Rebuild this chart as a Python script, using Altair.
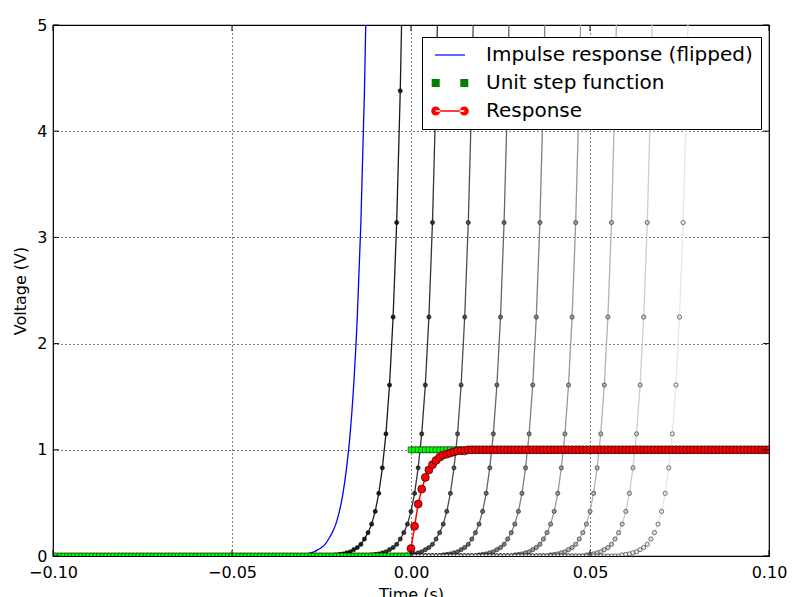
import altair as alt
import pandas as pd

# ---------------- data ----------------
# sample instants (milliseconds), 1 ms apart, over the window -0.1 s .. 0.1 s
TIME_MS = list(range(-100, 101))

# flipped impulse response: value k samples before the shift instant (k = 12 .. 31); further back ~0
IMPULSE_K = list(range(12, 32))
IMPULSE_V = [6.1, 4.38, 3.14, 2.25, 1.61, 1.15, 0.83, 0.59, 0.42, 0.30,
             0.22, 0.16, 0.11, 0.08, 0.06, 0.04, 0.03, 0.02, 0.015, 0.01]

# shifted copies of the flipped impulse response (shift in ms) and their grey levels
SHIFTS_MS = [10, 20, 30, 40, 50, 60, 70, 80, 90]
SHIFT_GREYS = ["#1a1a1a", "#333333", "#4d4d4d", "#666666", "#808080",
               "#999999", "#b3b3b3", "#cccccc", "#e6e6e6"]

# unit step samples (-100 .. 100 ms)
STEP_V = [0] * 100 + [1] * 101

# response samples (0 .. 100 ms)
RESPONSE_MS = list(range(0, 101))
RESPONSE_V = [0.07, 0.28, 0.49, 0.63, 0.74, 0.81, 0.86, 0.90, 0.93, 0.95,
              0.96, 0.97, 0.98, 0.99, 0.99, 0.99, 1.0, 1.0, 1.0, 1.0] + [1.0] * 81

X_TICKS = [-0.10, -0.05, 0.0, 0.05, 0.10]
Y_TICKS = [0, 1, 2, 3, 4, 5]

LEGEND_LABELS = ["Impulse response (flipped)", "Unit step function", "Response"]
LEGEND_FILLS = ["#0000ff", "#007f00", "#ff0000"]
# symbol paths (1 unit = 10 px with symbolSize 400)
LEGEND_SHAPES = [
    "M-1.5,-0.06H1.5V0.06H-1.5Z",
    "M-1.83,-0.4H-1.03V0.4H-1.83Z M1.03,-0.4H1.83V0.4H1.03Z",
    "M-1.43,-0.07H1.43V0.07H-1.43Z "
    "M-1.88,0A0.45 0.45 0 1 0 -0.98 0A0.45 0.45 0 1 0 -1.88 0Z "
    "M0.98,0A0.45 0.45 0 1 0 1.88 0A0.45 0.45 0 1 0 0.98 0Z",
]

# ---------------- tables ----------------
def impulse_value(k):
    if k in IMPULSE_K:
        return IMPULSE_V[IMPULSE_K.index(k)]
    return 0.0

grey_rows = []
for shift, grey in zip(SHIFTS_MS, SHIFT_GREYS):
    for ms in TIME_MS:
        k = shift - ms
        if k >= IMPULSE_K[0]:
            grey_rows.append({"t": ms / 1000, "v": impulse_value(k), "curve": shift, "grey": grey})
grey_df = pd.DataFrame(grey_rows)

blue_df = pd.DataFrame([{"t": ms / 1000, "v": impulse_value(-ms)} for ms in TIME_MS if -ms >= IMPULSE_K[0]])
step_df = pd.DataFrame({"t": [ms / 1000 for ms in TIME_MS], "v": STEP_V})
resp_df = pd.DataFrame({"t": [ms / 1000 for ms in RESPONSE_MS], "v": RESPONSE_V})
xtick_df = pd.DataFrame({"t": X_TICKS})
ytick_df = pd.DataFrame({"v": Y_TICKS})
legend_df = pd.DataFrame({"series": LEGEND_LABELS})

W, H = 716, 531
FONT = "DejaVu Sans"

x_scale = alt.Scale(domain=[-0.1, 0.1], nice=False, zero=False)
y_scale = alt.Scale(domain=[0, 5], nice=False)

x_axis = alt.Axis(values=X_TICKS, title="Time (s)",
                  labelExpr="replace(format(datum.value, '.2f'), '-', '\u2212')",
                  labelFlush=False, labelOverlap=False,
                  labelPadding=8, titlePadding=6)
y_axis = alt.Axis(values=Y_TICKS, title="Voltage (V)", format="d",
                  labelFlush=False, labelOverlap=False,
                  labelPadding=6, titlePadding=8)


def X(field="t"):
    return alt.X(f"{field}:Q", scale=x_scale, axis=x_axis)


def Y(field="v"):
    return alt.Y(f"{field}:Q", scale=y_scale, axis=y_axis)


grey_lines = alt.Chart(grey_df).mark_line(strokeWidth=1.3, clip=True).encode(
    x=X(), y=Y(), detail="curve:N", stroke=alt.Stroke("grey:N", scale=None)
)
grey_pts = alt.Chart(grey_df).mark_point(filled=True, size=18, opacity=1, clip=True,
                                         stroke="#000000", strokeWidth=0.5, shape="circle").encode(
    x=X(), y=Y(), fill=alt.Fill("grey:N", scale=None)
)
blue_line = alt.Chart(blue_df).mark_line(color="#0000ff", strokeWidth=1.3, interpolate="monotone", clip=True).encode(
    x=X(), y=Y()
)
step_pts = alt.Chart(step_df).mark_point(shape="square", filled=True, size=34, opacity=1, clip=True,
                                         fill="#00ff00", stroke="#000000", strokeWidth=0.5).encode(
    x=X(), y=Y()
)
resp_line = alt.Chart(resp_df).mark_line(color="#ff0000", strokeWidth=1.5, clip=True).encode(
    x=X(), y=Y()
)
resp_pts = alt.Chart(resp_df).mark_point(shape="circle", filled=True, size=64, opacity=1, clip=True,
                                         fill="#ff0000", stroke="#000000", strokeWidth=0.6).encode(
    x=X(), y=Y()
)

tick_len = 6
tick_bottom = alt.Chart(xtick_df).mark_rule(color="black", strokeWidth=1).encode(
    x=X(), y=alt.value(H), y2=alt.value(H - tick_len))
tick_top = alt.Chart(xtick_df).mark_rule(color="black", strokeWidth=1).encode(
    x=X(), y=alt.value(0), y2=alt.value(tick_len))
tick_left = alt.Chart(ytick_df).mark_rule(color="black", strokeWidth=1).encode(
    y=Y(), x=alt.value(0), x2=alt.value(tick_len))
tick_right = alt.Chart(ytick_df).mark_rule(color="black", strokeWidth=1).encode(
    y=Y(), x=alt.value(W), x2=alt.value(W - tick_len))

legend_layer = alt.Chart(legend_df).transform_filter("false").mark_point(filled=True, opacity=1).encode(
    fill=alt.Fill("series:N", scale=alt.Scale(domain=LEGEND_LABELS, range=LEGEND_FILLS),
                  legend=alt.Legend(title=None)),
    shape=alt.Shape("series:N", scale=alt.Scale(domain=LEGEND_LABELS, range=LEGEND_SHAPES),
                    legend=alt.Legend(title=None)),
)

chart = alt.layer(
    grey_lines, grey_pts, blue_line, step_pts, resp_line, resp_pts,
    tick_bottom, tick_top, tick_left, tick_right, legend_layer
).properties(
    width=W, height=H,
    autosize=alt.AutoSizeParams(type="none"),
    padding={"left": 45, "top": 17, "right": 23, "bottom": 41},
).configure_view(
    stroke="black", strokeWidth=1.2
).configure_axis(
    labelFont=FONT, titleFont=FONT, labelFontSize=16, titleFontSize=16,
    labelColor="black", titleColor="black", titleFontWeight="normal",
    ticks=False, domain=False,
    grid=True, gridColor="#000000", gridDash=[1, 3], gridWidth=1, gridOpacity=1,
).configure_legend(
    orient="none", legendX=369, legendY=12,
    labelFont=FONT, labelFontSize=20, labelColor="black", labelLimit=500,
    symbolSize=400, symbolStrokeWidth=0, symbolStrokeColor="transparent",
    symbolOffset=10, labelOffset=26, rowPadding=8, padding=8,
    strokeColor="black", fillColor="white", cornerRadius=0,
)

chart.save("out.html", embed_options={"renderer": "svg", "actions": False})
